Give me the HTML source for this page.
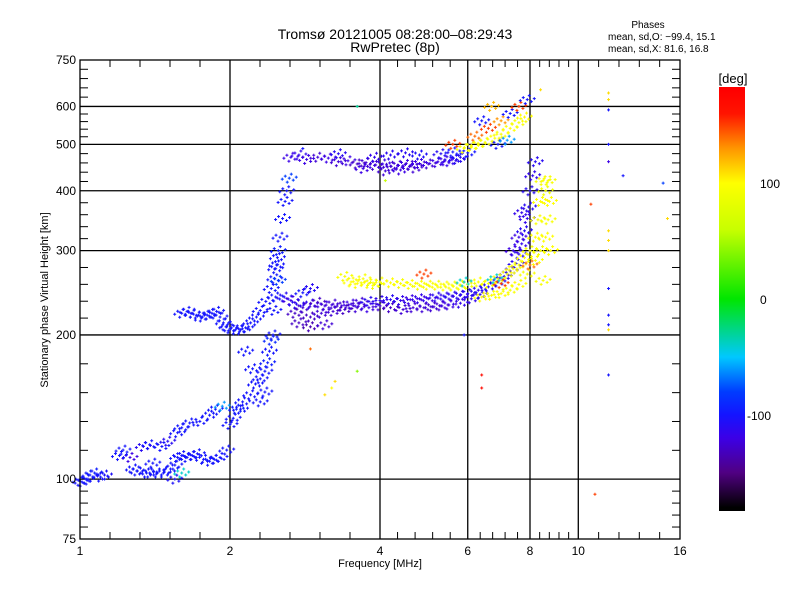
<!DOCTYPE html>
<html><head><meta charset="utf-8"><style>
body{margin:0;background:#fff;}
svg text{font-family:"Liberation Sans",sans-serif;fill:#000;}
</style></head><body>
<svg id="chart" width="800" height="600" xmlns="http://www.w3.org/2000/svg">
<rect width="800" height="600" fill="#fff"/>
<text x="395" y="39" font-size="14" text-anchor="middle">Tromsø 20121005 08:28:00–08:29:43</text>
<text x="395" y="52" font-size="14" text-anchor="middle">RwPretec (8p)</text>
<text x="648" y="28" font-size="10" text-anchor="middle">Phases</text>
<text x="608" y="40" font-size="10">mean, sd,O: −99.4, 15.1</text>
<text x="608" y="52" font-size="10">mean, sd,X:  81.6, 16.8</text>
<text transform="translate(48,300) rotate(-90)" font-size="11" text-anchor="middle">Stationary phase Virtual Height [km]</text>
<text x="380" y="567" font-size="11" text-anchor="middle">Frequency [MHz]</text>
<g id="grid"></g>
<g id="marks"></g>
<g id="axes"></g>
<g id="cbar"></g>
</svg>
<script>
const xTicks=[1,2,4,6,8,10,16];
const xGrid=[2,4,6,8,10];
const yTicks=[75,100,200,300,400,500,600,750];
const yGrid=[100,200,300,400,500,600];
const cbTicks=[100,0,-100];
// traces: [freq MHz, height km, phase deg]
const lowTrace=[[1.0,99,-100],[1.01,98.6,-100],[1.03,100,-100],[1.047,102,-100],[1.07,103,-95],[1.1,101,-100],[1.12,102,-105],[1.26,111,-120],[1.28,105,-100],[1.3,104,-100],[1.34,117,-110],[1.38,118,-100],[1.36,103,-100],[1.38,103,-100],[1.43,103,-100],[1.47,103,-100],[1.52,105,-100],[1.55,107,-100],[1.57,111,-100],[1.6,112,-100],[1.64,111,-100],[1.68,112,-100],[1.72,113,-100],[1.77,110,-100],[1.82,109,-100],[1.86,110,-100],[1.91,111,-100],[1.97,115,-100],[1.57,125,-100],[1.6,128,-100],[1.66,131,-100],[1.74,132,-100],[1.82,136,-100],[1.87,140,-100],[1.93,142,-60],[2.0,130,-100],[2.03,134,-100],[2.06,140,-95],[1.46,117,-100],[1.5,120,-110],[1.2,112,-100],[1.22,115,-100],[1.4,108,-100],[1.55,100,-105],[1.6,103,-40]];
const midTrace=[[2.2,150,-100],[2.25,158,-100],[2.3,162,-100],[2.35,168,-100],[2.38,175,-95],[2.4,185,-100],[2.42,195,-90],[2.44,200,-100],[2.3,145,-100],[2.35,152,-100],[2.22,170,-100],[2.15,185,-100],[2.1,140,-100],[2.12,145,-100]];
const eTrace=[[1.6,222,-100],[1.64,224,-100],[1.68,222,-100],[1.72,219,-100],[1.76,218,-100],[1.8,220,-100],[1.84,222,-100],[1.88,224,-100],[1.91,218,-100],[1.94,212,-100],[1.97,208,-100],[2.0,206,-100],[2.05,205,-100],[2.1,205,-100],[2.15,207,-100],[2.2,212,-100],[2.26,218,-100],[2.3,225,-100],[2.36,235,-100],[2.42,250,-100],[2.46,262,-100],[2.48,280,-100],[2.5,300,-95],[2.49,290,-100],[2.52,320,-100],[2.55,350,-100],[2.58,380,-100],[2.6,400,-100],[2.63,425,-80],[2.5,260,-80],[2.47,275,-100],[2.47,240,-100],[2.45,225,-100]];
const f2O=[[2.57,240,-110],[2.65,236,-120],[2.72,232,-110],[2.8,228,-125],[2.9,232,-115],[3.0,234,-130],[3.1,230,-120],[3.22,232,-125],[3.35,230,-125],[3.5,232,-120],[3.65,234,-125],[3.8,235,-110],[4.0,236,-115],[4.2,237,-110],[4.4,236,-115],[4.6,237,-120],[4.8,238,-115],[5.0,238,-120],[5.2,240,-110],[5.4,240,-115],[5.6,241,-110],[5.8,242,-115],[6.0,244,-110],[6.3,248,-110],[6.6,252,-110],[6.9,258,-110],[7.1,265,-110],[7.3,272,-115],[7.5,282,-110],[7.6,295,-110],[7.7,310,-115],[7.8,330,-110],[7.9,350,-115],[7.95,370,-110],[8.0,400,-110],[8.1,430,-115],[8.2,460,-110],[7.4,300,-120],[7.6,320,-120],[7.7,360,-115]];
const f2Olow=[[2.7,222,-130],[2.9,218,-130],[3.05,222,-125],[3.22,224,-125],[3.4,226,-130],[3.6,228,-125],[3.8,228,-120],[4.0,230,-125],[4.2,228,-130],[4.45,226,-125],[4.66,228,-125],[4.9,228,-125],[5.1,229,-125],[5.3,230,-125],[5.5,231,-120],[5.8,233,-115],[6.1,238,-115],[6.35,243,-110],[2.75,212,-130],[2.9,208,-135],[3.1,210,-125],[2.8,245,-100],[2.9,250,-110]];
const f2X=[[3.4,265,95],[3.5,258,100],[3.6,256,100],[3.7,262,95],[3.8,256,100],[3.9,255,90],[4.0,258,95],[4.2,257,100],[4.4,256,95],[4.6,255,100],[4.8,254,95],[5.0,254,100],[5.2,254,95],[5.4,253,100],[5.6,253,95],[5.8,254,100],[6.0,255,90],[6.3,258,100],[6.6,256,95],[6.9,262,100],[7.2,268,95],[7.4,275,100],[7.6,280,95],[7.8,290,100],[8.0,300,95],[8.2,320,100],[8.3,348,95],[8.4,380,100],[8.5,420,95],[6.4,240,100],[6.7,242,95],[7.0,244,100],[7.3,248,95],[7.6,255,100],[7.9,268,95],[8.2,286,100],[8.4,300,95],[8.6,320,100],[8.7,348,95],[8.75,380,100],[8.7,420,95],[8.6,400,90],[8.8,300,100],[8.5,260,95],[8.0,280,140],[7.0,256,150],[6.8,262,-40],[5.9,258,-40],[4.9,268,150]];
const f2Hop=[[2.65,470,-120],[2.75,475,-115],[2.85,465,-120],[3.0,470,-125],[3.15,468,-120],[3.3,460,-125],[3.45,462,-120],[3.6,455,-130],[3.75,458,-125],[3.9,452,-125],[4.05,455,-120],[4.2,450,-125],[4.35,452,-125],[4.5,454,-120],[4.6,452,-125],[4.8,456,-120],[5.0,455,-125],[5.2,458,-120],[5.4,462,-120],[5.5,460,-115],[5.7,465,-110],[5.8,470,-110],[6.0,480,-100],[3.9,470,-115],[4.2,475,-110],[4.5,480,-110],[4.8,475,-105],[5.3,478,-110],[5.6,482,-100],[3.7,445,-120],[4.1,440,-125],[4.4,442,-120],[4.7,446,-125],[3.3,478,-110]];
const f2HopX=[[5.9,490,100],[6.1,495,95],[6.3,500,100],[6.5,505,95],[6.8,515,100],[7.0,525,95],[7.3,540,100],[7.6,555,95],[7.8,570,100],[6.2,520,140],[6.6,540,150],[7.0,560,130],[7.3,580,-100],[7.6,600,150],[7.9,620,-100],[6.9,500,-100],[7.2,510,-60],[6.4,560,-100],[5.6,500,150],[6.7,600,120]];
const scatter=[[5.9,200,-100],[6.4,165,170],[6.4,155,170],[3.2,155,100],[3.25,160,110],[2.9,187,140],[3.6,168,40],[3.1,150,110],[11.5,640,110],[11.5,620,110],[11.5,590,-100],[11.5,500,-100],[11.5,460,-120],[11.5,330,110],[11.5,315,110],[11.5,300,110],[11.5,250,-100],[11.5,220,-100],[11.5,210,-100],[11.5,205,110],[11.5,165,-100],[10.8,93,150],[10.6,375,150],[12.3,430,-100],[14.8,415,-80],[15.1,350,110],[8.4,650,110],[3.6,600,-30],[4.1,420,60],[2.8,490,-100]];

const X0=80,X1=680,Y0=539,Y1=60;
const xs=f=>X0+(X1-X0)*Math.log(f)/Math.log(16);
const ys=h=>Y0-(Y0-Y1)*Math.log(h/75)/Math.log(10);
const NS="http://www.w3.org/2000/svg";
function el(t,a,p){const e=document.createElementNS(NS,t);for(const k in a)e.setAttribute(k,a[k]);p.appendChild(e);return e;}
const stops=[[-180,[0,0,0]],[-150,[80,0,130]],[-120,[60,0,230]],[-100,[20,20,255]],[-80,[0,60,255]],[-50,[0,200,255]],[0,[0,230,0]],[60,[200,255,0]],[100,[255,255,0]],[130,[255,150,0]],[160,[255,20,0]],[180,[255,0,0]]];
function col(v){for(let i=1;i<stops.length;i++){if(v<=stops[i][0]){const a=stops[i-1],b=stops[i];const t=(v-a[0])/(b[0]-a[0]);const c=a[1].map((x,j)=>Math.round(x+(b[1][j]-x)*t));return `rgb(${c})`;}}return 'rgb(255,0,0)';}

const grid=document.getElementById('grid');
xGrid.forEach(f=>{const l=el('line',{x1:xs(f),x2:xs(f),y1:Y1,y2:Y0,stroke:'#000','stroke-width':1.3},grid);});
yGrid.forEach(h=>{const l=el('line',{x1:X0,x2:X1,y1:ys(h),y2:ys(h),stroke:'#000','stroke-width':1.3},grid);});

const marks=document.getElementById('marks');
const off=[[0,0],[4,2],[-4,-2],[2,-4],[-2,4],[7,-1],[-7,1]];
[lowTrace,midTrace,eTrace,f2O,f2Olow,f2X,f2Hop,f2HopX,scatter].forEach((tr,ti)=>{
 tr.forEach(p=>{const cx=xs(p[0]),cy=ys(p[1]),c=col(p[2]);
  const g=el('g',{fill:c},marks);
  
  
  const n=ti===8?1:off.length;
  for(let k=0;k<n;k++){const x=cx+off[k][0],y=cy+off[k][1];
   el('rect',{x:x-1.5,y:y-0.5,width:3,height:1},g);el('rect',{x:x-0.5,y:y-1.5,width:1,height:3},g);}
 });
});

const ax=document.getElementById('axes');
el('rect',{x:X0,y:Y1,width:X1-X0,height:Y0-Y1,fill:'none',stroke:'#000','stroke-width':1.3},ax);
for(let i=0;i<xTicks.length-1;i++){const a=xs(xTicks[i]),b=xs(xTicks[i+1]);for(let k=1;k<5;k++){const x=a+(b-a)*k/5;el('line',{x1:x,x2:x,y1:Y0,y2:Y0-7,stroke:'#000'},ax);el('line',{x1:x,x2:x,y1:Y1,y2:Y1+7,stroke:'#000'},ax);}}
for(let i=0;i<yTicks.length-1;i++){const a=ys(yTicks[i]),b=ys(yTicks[i+1]);for(let k=1;k<5;k++){const y=a+(b-a)*k/5;el('line',{x1:X0,x2:X0+8,y1:y,y2:y,stroke:'#000'},ax);el('line',{x1:X1,x2:X1-8,y1:y,y2:y,stroke:'#000'},ax);}}
xTicks.forEach(f=>{const t=el('text',{x:xs(f),y:555,'font-size':12,'text-anchor':'middle'},ax);t.textContent=f;});
yTicks.forEach(h=>{const t=el('text',{x:76,y:ys(h)+4,'font-size':12,'text-anchor':'end'},ax);t.textContent=h;});

const cb=document.getElementById('cbar');
const CT=87,CB=511,vmax=183,vmin=-183;
const cy=v=>CT+(vmax-v)/(vmax-vmin)*(CB-CT);
const defs=el('defs',{},cb);const lg=el('linearGradient',{id:'cg',x1:0,y1:0,x2:0,y2:1},defs);
stops.slice().reverse().forEach(s=>{el('stop',{offset:Math.min(1,Math.max(0,(cy(s[0])-CT)/(CB-CT))),'stop-color':col(s[0])},lg);});
const r=el('rect',{x:719,y:CT,width:26,height:CB-CT,fill:'url(#cg)'},cb);

const u=el('text',{x:733,y:83,'font-size':13,'text-anchor':'middle'},cb);u.textContent='[deg]';

cbTicks.forEach(v=>{const t=el('text',{x:v<0?747:760,y:cy(v)+5,'font-size':12},cb);t.textContent=v;});
</script>
</body></html>
